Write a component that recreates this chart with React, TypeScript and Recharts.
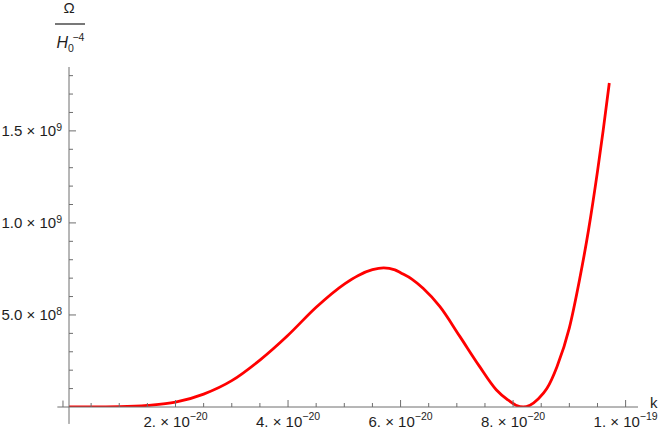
import React from 'react'
import { LineChart, Line, XAxis, YAxis, ReferenceLine } from 'recharts'

// k values (x) and Omega / H0^-4 values (y)
const kValues = [
  1.07e-21, 5.0e-21, 1.0e-20, 1.5e-20, 2.0e-20, 2.5e-20, 3.0e-20, 3.5e-20, 4.0e-20, 4.5e-20,
  5.0e-20, 5.25e-20, 5.5e-20, 5.7e-20, 5.9e-20, 6.0e-20, 6.2e-20, 6.4e-20, 6.7e-20, 7.05e-20,
  7.4e-20, 7.7e-20, 7.9e-20, 8.05e-20, 8.18e-20, 8.3e-20, 8.45e-20, 8.6e-20, 8.78e-20, 9.0e-20,
  9.18e-20, 9.34e-20, 9.5e-20, 9.6e-20, 9.71e-20,
]
const omegaValues = [
  0, 1.0e5, 2.0e6, 9.0e6, 2.6e7, 7.0e7, 1.43e8, 2.55e8, 3.9e8, 5.42e8,
  6.68e8, 7.15e8, 7.46e8, 7.56e8, 7.45e8, 7.29e8, 6.95e8, 6.45e8, 5.45e8, 3.85e8,
  2.22e8, 9.4e7, 4.0e7, 1.0e7, 0, 1.0e7, 4.5e7, 1.0e8, 2.19e8, 4.3e8,
  6.9e8, 9.6e8, 1.28e9, 1.5e9, 1.76e9,
]

const xMajorTicks = [2e-20, 4e-20, 6e-20, 8e-20, 1e-19]
const xMajorMantissa = ['2.', '4.', '6.', '8.', '1.']
const xMajorExponent = ['\u221220', '\u221220', '\u221220', '\u221220', '\u221219']
const xMinorTicks = [
  5e-21, 1e-20, 1.5e-20, 2.5e-20, 3e-20, 3.5e-20, 4.5e-20, 5e-20, 5.5e-20,
  6.5e-20, 7e-20, 7.5e-20, 8.5e-20, 9e-20, 9.5e-20,
]

const yMajorTicks = [5e8, 1e9, 1.5e9]
const yMajorMantissa = ['5.0', '1.0', '1.5']
const yMajorExponent = ['8', '9', '9']
const yMinorTicks = [1e8, 2e8, 3e8, 4e8, 6e8, 7e8, 8e8, 9e8, 1.1e9, 1.2e9, 1.3e9, 1.4e9, 1.6e9, 1.7e9, 1.8e9]

const data = kValues.map((k, i) => ({ k, omega: omegaValues[i] }))
const xTicks = [...xMinorTicks, ...xMajorTicks].sort((a, b) => a - b)
const yTicks = [...yMinorTicks, ...yMajorTicks].sort((a, b) => a - b)

const AXIS = '#6e6e6e'
const TEXT = '#1e1e1e'
const FONT = "'Liberation Sans', Arial, sans-serif"

function XTick(props: any) {
  const { x, y, payload } = props
  const i = xMajorTicks.indexOf(payload.value)
  if (i < 0) return <line x1={x} y1={y} x2={x} y2={y - 4} stroke={AXIS} strokeWidth={1} />
  return (
    <g>
      <line x1={x} y1={y} x2={x} y2={y - 7} stroke={AXIS} strokeWidth={1} />
      <text x={x} y={y + 19.5} textAnchor="middle" fontSize={15} fill={TEXT} fontFamily={FONT}>
        {xMajorMantissa[i]} {'\u00d7'} 10
        <tspan dy={-6.5} fontSize={10.5}>{xMajorExponent[i]}</tspan>
      </text>
    </g>
  )
}

function YTick(props: any) {
  const { x, y, payload } = props
  const i = yMajorTicks.indexOf(payload.value)
  if (i < 0) return <line x1={x} y1={y} x2={x + 4} y2={y} stroke={AXIS} strokeWidth={1} />
  return (
    <g>
      <line x1={x} y1={y} x2={x + 7} y2={y} stroke={AXIS} strokeWidth={1} />
      <text x={x - 7} y={y + 5.3} textAnchor="end" fontSize={15} fill={TEXT} fontFamily={FONT}>
        {yMajorMantissa[i]} {'\u00d7'} 10
        <tspan dy={-5.5} fontSize={10.5}>{yMajorExponent[i]}</tspan>
      </text>
    </g>
  )
}

function YLabel(props: any) {
  const { x, y, width } = props.viewBox
  const ax = x + width
  return (
    <g fontFamily={FONT} fill={TEXT}>
      <text x={ax} y={y - 54} textAnchor="middle" fontSize={15}>{'\u03a9'}</text>
      <line x1={ax - 14} y1={y - 43} x2={ax + 16} y2={y - 43} stroke={TEXT} strokeWidth={1.2} />
      <text x={ax - 12.5} y={y - 19} fontSize={16}>
        <tspan fontStyle="italic">H</tspan>
        <tspan dy={4} fontSize={10.5}>0</tspan>
        <tspan dx={-1.5} dy={-11} fontSize={10.5}>{'\u22124'}</tspan>
      </text>
    </g>
  )
}

function XLabel(props: any) {
  const { x, y, width } = props.viewBox
  return (
    <text x={x + width + 12} y={y + 1} fontSize={15} fill={TEXT} fontFamily={FONT}>k</text>
  )
}

export default function App() {
  return (
    <div style={{ position: 'absolute', left: 0, top: 0, width: 662, height: 430, background: '#fff' }}>
      <LineChart width={662} height={430} data={data} margin={{ top: 67, right: 24, bottom: 0, left: 0 }}>
        <XAxis
          dataKey="k"
          type="number"
          domain={[1.07e-21, 1.022e-19]}
          allowDataOverflow
          ticks={xTicks}
          interval={0}
          tick={XTick}
          tickLine={false}
          tickSize={0}
          tickMargin={0}
          height={23}
          stroke={AXIS}
          label={XLabel}
        />
        <YAxis
          type="number"
          domain={[0, 1.847e9]}
          allowDataOverflow
          ticks={yTicks}
          interval={0}
          tick={YTick}
          tickLine={false}
          tickSize={0}
          tickMargin={0}
          width={69}
          stroke={AXIS}
          label={YLabel}
        />
        {/* axis stubs that reach past the plot corner, as in the original */}
        <ReferenceLine
          segment={[{ x: -1.0e-21, y: 0 }, { x: 1.07e-21, y: 0 }]}
          stroke={AXIS}
          ifOverflow="visible"
        />
        <ReferenceLine
          segment={[{ x: 0, y: 0 }, { x: 0, y: 3.5e7 }]}
          stroke={AXIS}
          ifOverflow="visible"
        />
        <ReferenceLine
          segment={[{ x: 1.07e-21, y: 0 }, { x: 1.07e-21, y: -9.2e7 }]}
          stroke={AXIS}
          ifOverflow="visible"
        />
        <Line
          type="monotone"
          dataKey="omega"
          stroke="#ff0000"
          strokeWidth={2.8}
          dot={false}
          isAnimationActive={false}
        />
      </LineChart>
    </div>
  )
}
